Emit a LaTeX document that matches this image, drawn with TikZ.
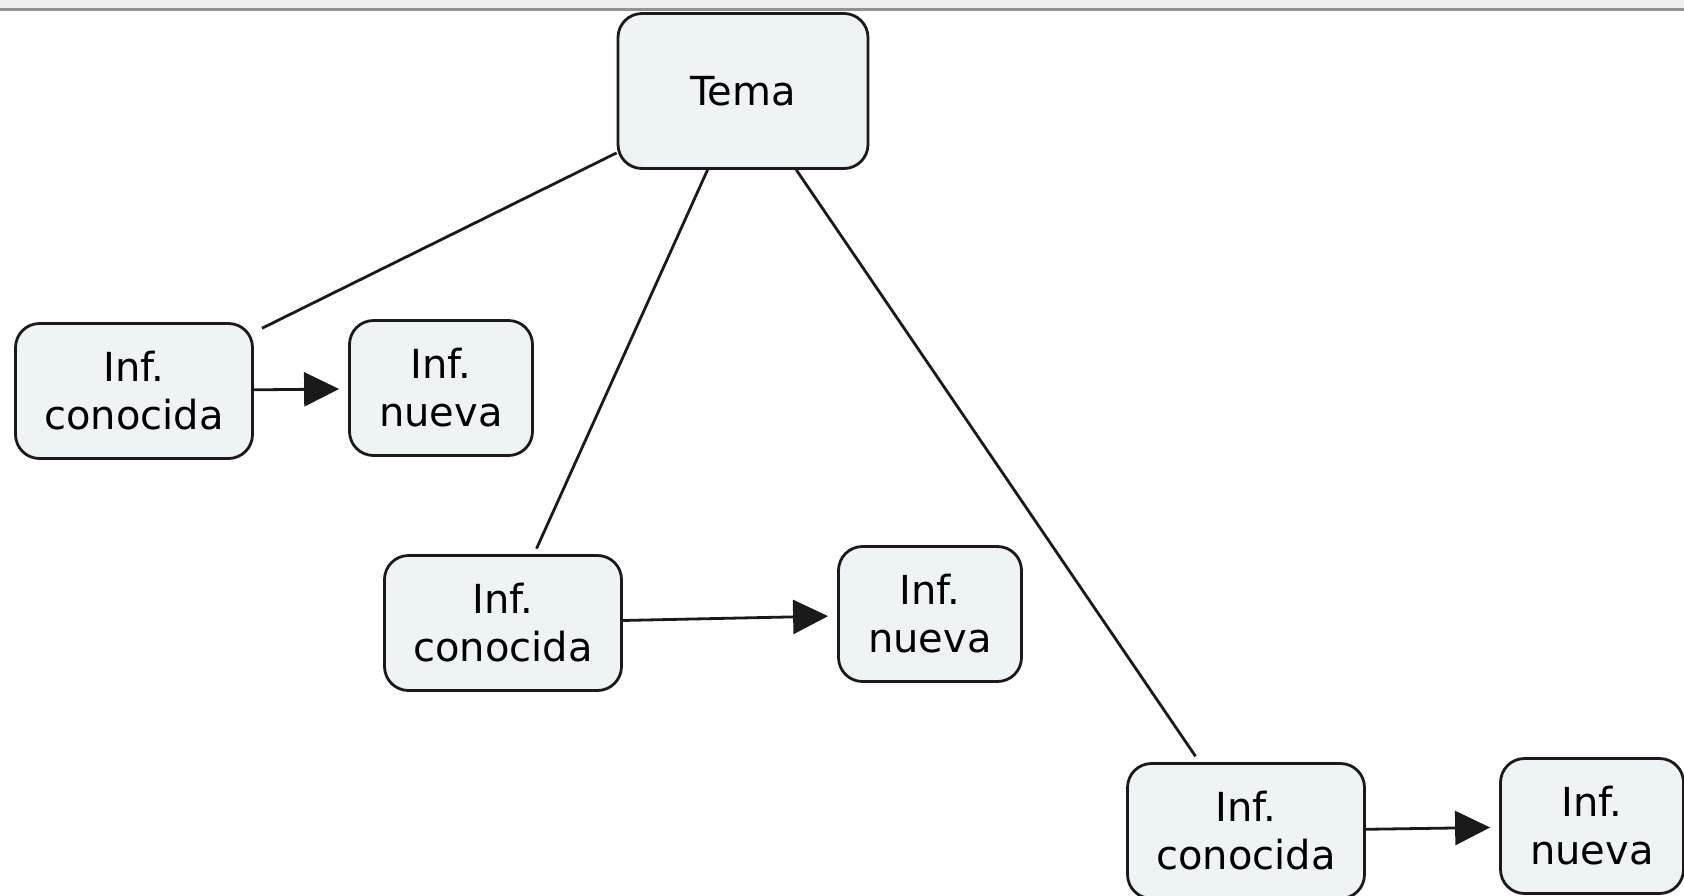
\documentclass[tikz,border=0pt]{standalone}
\usepackage{fontspec}
\setmainfont{DejaVu Sans}
\usetikzlibrary{arrows.meta}
\definecolor{conceptfill}{HTML}{EEF3F6}
\definecolor{conceptline}{HTML}{1A1A1A}

\begin{document}
\begin{tikzpicture}[x=1pt,y=-1pt]
	\tikzset{concept/.style={draw=conceptline,line width=2.8pt,fill=conceptfill,rounded corners=24pt,
			inner sep=0pt,align=center,font=\fontsize{40}{48}\selectfont},
		known/.style={concept,minimum width=237pt,minimum height=135pt},
		new/.style={concept,minimum width=183pt,minimum height=135pt},
		link/.style={draw=conceptline,line width=2.8pt},
		next/.style={link,-{Triangle[length=35pt,width=34pt]},shorten >=9pt}}
	\useasboundingbox (0,0) rectangle (1684,895);
	\clip (0,0) rectangle (1684,895);
	% top strip
	\fill[gray!12] (0,0) rectangle (1684,8);
	\fill[gray!85] (0,8) rectangle (1684,11);
	% concepts
	\node[concept,minimum width=250pt,minimum height=155pt] (tema) at (743,91) {Tema};
	\node[known] (known1) at (134,391) {Inf.\\conocida};
	\node[new] (new1) at (441,388) {Inf.\\nueva};
	\node[known] (known2) at (503,623) {Inf.\\conocida};
	\node[new] (new2) at (930,614) {Inf.\\nueva};
	\node[known] (known3) at (1246,831) {Inf.\\conocida};
	\node[new] (new3) at (1592,826) {Inf.\\nueva};
	% links
	\draw[link,shorten >=9pt] (tema) -- (known1);
	\draw[link,shorten >=6pt] (tema) -- (known2);
	\draw[link,shorten >=7pt] (tema) -- (known3);
	\draw[next] (known1) -- (new1);
	\draw[next] (known2) -- (new2);
	\draw[next] (known3) -- (new3);
\end{tikzpicture}
\end{document}
